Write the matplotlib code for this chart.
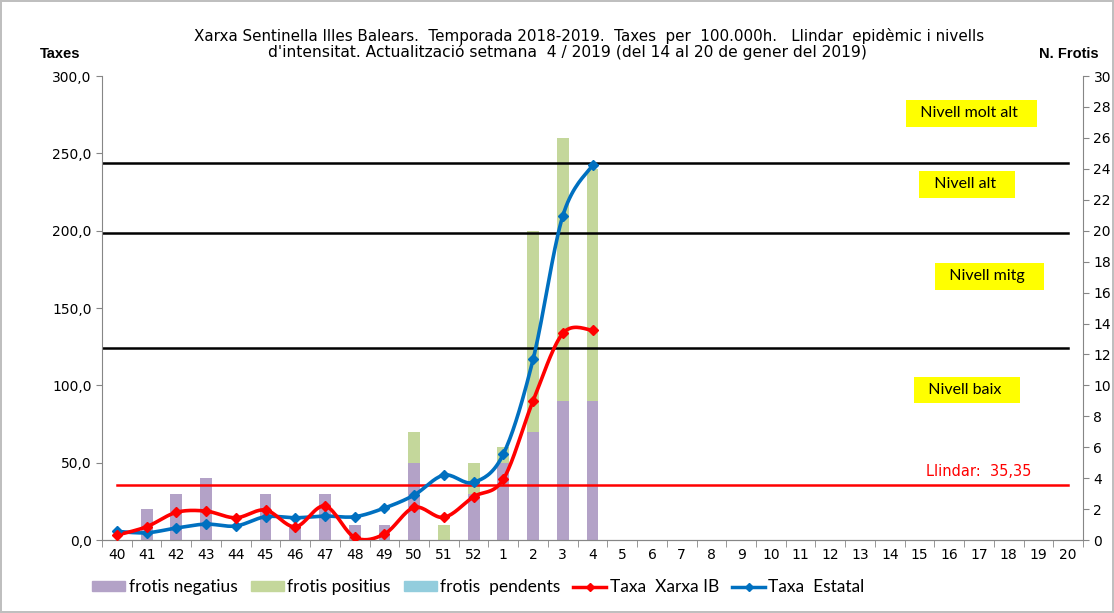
import numpy as np
import matplotlib
matplotlib.use("Agg")
import matplotlib.pyplot as plt
from matplotlib.patches import Patch
from matplotlib.lines import Line2D

weeks = [str(w) for w in range(40, 53)] + [str(w) for w in range(1, 21)]
# frotis (right axis)
neg = [0, 2, 3, 4, 0, 3, 1, 3, 1, 1, 5, 0, 3, 5, 7, 9, 9] + [0] * 16
pos = [0, 0, 0, 0, 0, 0, 0, 0, 0, 0, 2, 1, 2, 1, 13, 17, 15] + [0] * 16
pend = [0] * 33
# taxes (left axis)
taxa_ib = [3.2, 8.6, 17.9, 18.7, 14.4, 19.4, 8.6, 22.0, 1.7, 3.9, 21.1, 14.7, 28.0, 39.4, 90.0, 133.6, 135.7]
taxa_estatal = [5.6, 4.7, 7.8, 10.3, 9.1, 15.1, 14.4, 15.5, 15.1, 20.7, 29.1, 42.0, 37.3, 55.6, 116.8, 209.6, 242.4]
llindar = 35.35
nivells = [124.0, 198.6, 243.9]
nivell_labels = [("Nivell baix", 28.6, 97), ("Nivell mitg", 29.35, 170.5), ("Nivell alt", 28.6, 230),
                 ("Nivell molt alt", 28.75, 276)]

c_neg = "#B3A2C7"
c_pos = "#C4D79B"
c_pend = "#93CDDD"
c_red = "#FF0000"
c_blue = "#0070C0"


def smooth(y, n=20):
    # Catmull-Rom style curve like Excel's smoothed lines
    y = np.asarray(y, float)
    x = np.arange(len(y), dtype=float)
    px = np.concatenate([[x[0]], x, [x[-1]]])
    py = np.concatenate([[y[0]], y, [y[-1]]])
    xs, ys = [], []
    t = np.linspace(0, 1, n)
    for i in range(1, len(px) - 2):
        p0 = np.array([px[i], py[i]])
        p3 = np.array([px[i + 1], py[i + 1]])
        c1 = p0 + (p3 - np.array([px[i - 1], py[i - 1]])) / 6
        c2 = p3 - (np.array([px[i + 2], py[i + 2]]) - p0) / 6
        b = ((1 - t) ** 3)[:, None] * p0 + (3 * (1 - t) ** 2 * t)[:, None] * c1 + \
            (3 * (1 - t) * t ** 2)[:, None] * c2 + (t ** 3)[:, None] * p3
        xs.extend(b[:, 0]); ys.extend(b[:, 1])
    return np.array(xs), np.array(ys)


fig = plt.figure(figsize=(11.14, 6.13), dpi=100)
fig.patch.set_edgecolor("#BFBFBF")
fig.patch.set_linewidth(1.5)
ax = fig.add_axes([0.0916, 0.119, 0.8806, 0.757])
ax2 = ax.twinx()
ax.set_zorder(ax2.get_zorder() + 1)
ax.patch.set_visible(False)

x = np.arange(len(weeks))
neg_a = np.array(neg)
pos_a = np.array(pos)
ax2.bar(x, neg_a, width=0.4, color=c_neg)
ax2.bar(x, pos_a, width=0.4, bottom=neg_a, color=c_pos)
ax2.bar(x, pend, width=0.4, bottom=neg_a + pos_a, color=c_pend)

for v in nivells:
    ax.plot([-0.5, 32], [v, v], color="black", lw=1.8, zorder=2)
ax.plot([0, 32], [llindar, llindar], color=c_red, lw=1.8, zorder=2)

for data, col in [(taxa_estatal, c_blue), (taxa_ib, c_red)]:
    sx, sy = smooth(data)
    ax.plot(sx, sy, color=col, lw=2.6, zorder=3, solid_capstyle="round")
    ax.plot(x[:len(data)], data, ls="none", marker="D", ms=5.5, color=col, zorder=4)

for txt, xp, yp in nivell_labels:
    ax.text(xp, yp, "  " + txt + "   ", fontsize=11.5, family="Lato", ha="center", va="center",
            bbox=dict(boxstyle="square,pad=0.4", fc="#FFFF00", ec="none"), zorder=5)
ax.text(29.0, 44, "Llindar:  35,35", color=c_red, fontsize=10.5, family="DejaVu Sans",
        ha="center", va="center")

ax.set_xlim(-0.5, 32.5)
ax.set_ylim(0, 300)
ax2.set_ylim(0, 30)
ax.set_yticks(np.arange(0, 301, 50))
ax.set_yticklabels([f"{v:.1f}".replace(".", ",") for v in np.arange(0, 301, 50)])
ax2.set_yticks(np.arange(0, 31, 2))
ax.set_xticks(x)
ax.set_xticklabels(weeks)
ax.set_xticks(np.arange(-0.5, 33, 1), minor=True)
ax.tick_params(axis="x", which="major", length=0, labelsize=10, pad=6)
ax.tick_params(axis="x", which="minor", length=5, color="#868686", direction="out")
ax.tick_params(axis="y", length=4, color="#868686", labelsize=10)
ax2.tick_params(axis="y", length=4, color="#868686", labelsize=10)
for a in (ax, ax2):
    a.spines["top"].set_visible(False)
    for s in ("left", "right", "bottom"):
        a.spines[s].set_color("#868686")
ax2.spines["left"].set_visible(False)
ax.spines["right"].set_visible(False)

fig.text(589 / 1114, 0.941,
         "Xarxa Sentinella Illes Balears.  Temporada 2018-2019.  Taxes  per  100.000h.   Llindar  epidèmic i nivells",
         ha="center", va="center", fontsize=10.9, family="DejaVu Sans")
fig.text(567 / 1114, 0.915,
         "d'intensitat. Actualització setmana  4 / 2019 (del 14 al 20 de gener del 2019)",
         ha="center", va="center", fontsize=11.2, family="DejaVu Sans")
fig.text(0.054, 0.912, "Taxes", ha="center", va="center", fontsize=10.5, fontweight="bold",
         family=["Liberation Sans Narrow", "Liberation Sans"])
fig.text(0.959, 0.912, "N. Frotis", ha="center", va="center", fontsize=10.5, fontweight="bold",
         family=["Liberation Sans Narrow", "Liberation Sans"])

handles = [Patch(color=c_neg), Patch(color=c_pos), Patch(color=c_pend),
           Line2D([], [], color=c_red, lw=2.5, marker="D", ms=4),
           Line2D([], [], color=c_blue, lw=2.5, marker="D", ms=4)]
labels = ["frotis negatius", "frotis positius", "frotis  pendents", "Taxa  Xarxa IB", "Taxa  Estatal"]
fig.legend(handles, labels, loc="center left", bbox_to_anchor=(0.069, 0.042), ncol=5, frameon=False,
           prop={"family": "Lato", "size": 12.5}, handlelength=1.9, handleheight=0.57, columnspacing=0.75,
           handletextpad=0.2)

fig.savefig("out.png", dpi=100)
